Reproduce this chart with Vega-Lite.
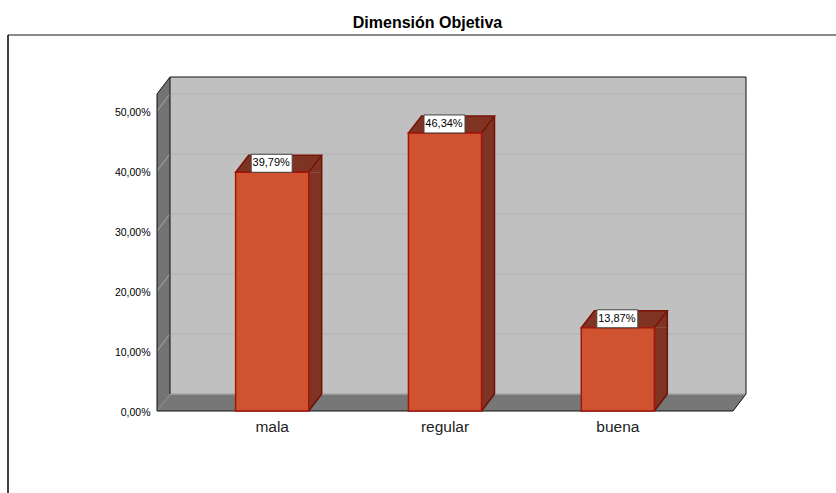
{
"$schema":"https://vega.github.io/schema/vega-lite/v6.json",
"width":576,"height":300,
"autosize":{"type":"none"},
"padding":{"left":157,"top":111,"right":103,"bottom":82},
"background":"white",
"title":{"text":"Dimensión Objetiva","anchor":"middle","dx":-17.5,"offset":3,"font":"Liberation Sans","fontSize":16,"fontWeight":"bold","color":"#000000"},
"config":{"view":{"stroke":null},"font":"Liberation Sans"},
"data":{"values":[
{"categoria":"mala","valor":39.79,"etiqueta":"39,79%"},
{"categoria":"regular","valor":46.34,"etiqueta":"46,34%"},
{"categoria":"buena","valor":13.87,"etiqueta":"13,87%"}]},
"encoding":{
"x":{"field":"categoria","type":"nominal","sort":null,"title":null,
"scale":{"domain":["mala","regular","buena"],"paddingInner":0.577,"paddingOuter":0.455},
"axis":{"labelAngle":0,"domain":false,"ticks":false,"labelPadding":8,"labelFontSize":15.5,"labelColor":"#222222","labelFont":"Liberation Sans"}},
"y":{"field":"valor","type":"quantitative","title":null,
"scale":{"domain":[0,50],"nice":false},
"axis":{"values":[0,10,20,30,40,50],"grid":false,"domain":false,"ticks":false,"labelPadding":7,"labelFontSize":10.5,"labelOffset":1,"labelColor":"#000000","labelFont":"Liberation Sans","labelExpr":"replace(format(datum.value,'.2f'),'.',',')+'%'"}}
},
"layer":[
{"data":{"values":[{"tick":0}]},
"mark":{"type":"rule","stroke":"#8a8a8a","strokeWidth":2},
"encoding":{"x":{"value":-149},"x2":{"value":679},"y":{"value":-76}}},
{"data":{"values":[{"tick":0}]},
"mark":{"type":"rule","stroke":"#000000","strokeWidth":1.5},
"encoding":{"x":{"value":-149},"y":{"value":-76},"y2":{"value":382}}},
{"data":{"values":[{"tick":0}]},
"mark":{"type":"point","shape":"M13 -17H589V-334H13Z","size":4,"filled":true,"fill":"#c0c0c0","opacity":1,"strokeWidth":0},
"encoding":{"x":{"value":0},"y":{"field":"tick","type":"quantitative"}}},
{"data":{"values":[{"tick":0}]},
"mark":{"type":"point","shape":"M0 0V-317L13 -334V-17Z","size":4,"filled":true,"fill":"#737373","opacity":1,"strokeWidth":0},
"encoding":{"x":{"value":0},"y":{"field":"tick","type":"quantitative"}}},
{"data":{"values":[{"tick":0}]},
"mark":{"type":"point","shape":"M0 0L13 -17H589L576 0Z","size":4,"filled":true,"fill":"#777777","opacity":1,"strokeWidth":0},
"encoding":{"x":{"value":0},"y":{"field":"tick","type":"quantitative"}}},
{"data":{"values":[{"tick":10},{"tick":20},{"tick":30},{"tick":40},{"tick":50}]},
"mark":{"type":"rule","stroke":"#b2b2b2","strokeWidth":1.2,"yOffset":-17},
"encoding":{"x":{"value":13},"x2":{"value":589},"y":{"field":"tick","type":"quantitative"}}},
{"data":{"values":[{"tick":10},{"tick":20},{"tick":30},{"tick":40},{"tick":50}]},
"mark":{"type":"point","shape":"M0 0L13 -17","size":4,"filled":false,"stroke":"#a8a8a8","opacity":1,"strokeWidth":1},
"encoding":{"x":{"value":0},"y":{"field":"tick","type":"quantitative"}}},
{"data":{"values":[{"tick":0}]},
"mark":{"type":"point","shape":"M13 -17H589","size":4,"filled":false,"stroke":"#a6a6a6","opacity":1,"strokeWidth":1.5},
"encoding":{"x":{"value":0},"y":{"field":"tick","type":"quantitative"}}},
{"data":{"values":[{"tick":0}]},
"mark":{"type":"point","shape":"M0 0V-317L13 -334H589V-17L576 0ZM13 -334V-17","size":4,"filled":false,"stroke":"#111111","opacity":1,"strokeWidth":1},
"encoding":{"x":{"value":0},"y":{"field":"tick","type":"quantitative"}}},
{"mark":{"type":"bar","fill":"#7f3322","size":13,"xOffset":43,"y2Offset":-17,"strokeWidth":0},
"encoding":{"y2":{"datum":0}}},
{"mark":{"type":"point","shape":"M36.5 0L49.5 -17V0Z","size":4,"filled":true,"fill":"#7f3322","opacity":1,"strokeWidth":0}},
{"mark":{"type":"point","shape":"M36.5 0L49.5 -17H36.5Z","size":4,"filled":true,"fill":"#7f3322","opacity":1,"strokeWidth":0},
"encoding":{"y":{"datum":0}}},
{"mark":{"type":"point","shape":"M36.5 0L49.5 -17","size":4,"filled":false,"stroke":"#6e1206","opacity":1,"strokeWidth":1.5},
"encoding":{"y":{"datum":0}}},
{"mark":{"type":"rule","stroke":"#6e1206","strokeWidth":1.5,"xOffset":49.5,"yOffset":-17,"y2Offset":-17},
"encoding":{"y2":{"datum":0}}},
{"mark":{"type":"point","shape":"M-36.5 0L-23.5 -17H49.5L36.5 0ZM49.5 -17L36.5 0","size":4,"filled":true,"fill":"#7f3322","stroke":"#7a1206","opacity":1,"strokeWidth":1.5}},
{"mark":{"type":"bar","fill":"#d0532f","stroke":"#a3140c","strokeWidth":1.5},
"encoding":{"y2":{"datum":0}}},
{"mark":{"type":"point","shape":"M-21 -18H20V0H-21Z","size":4,"filled":true,"fill":"#ffffff","stroke":"#444444","opacity":1,"strokeWidth":1}},
{"mark":{"type":"text","font":"Liberation Sans","fontSize":11,"fill":"#000000","align":"center","baseline":"middle","yOffset":-9,"xOffset":-1},
"encoding":{"text":{"field":"etiqueta","type":"nominal"}}}
]
}
